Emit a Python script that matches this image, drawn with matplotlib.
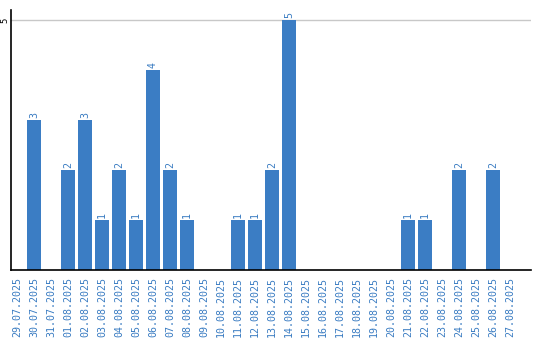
import matplotlib
matplotlib.use("Agg")
import matplotlib.pyplot as plt

dates = ["29.07.2025", "30.07.2025", "31.07.2025", "01.08.2025", "02.08.2025",
         "03.08.2025", "04.08.2025", "05.08.2025", "06.08.2025", "07.08.2025",
         "08.08.2025", "09.08.2025", "10.08.2025", "11.08.2025", "12.08.2025",
         "13.08.2025", "14.08.2025", "15.08.2025", "16.08.2025", "17.08.2025",
         "18.08.2025", "19.08.2025", "20.08.2025", "21.08.2025", "22.08.2025",
         "23.08.2025", "24.08.2025", "25.08.2025", "26.08.2025", "27.08.2025"]
values = [0, 3, 0, 2, 3, 1, 2, 1, 4, 2, 1, 0, 0, 1, 1, 2, 5, 0, 0, 0, 0, 0, 0,
          1, 1, 0, 2, 0, 2, 0]

bar_color = "#3b7dc4"
text_color = "#3a7cc2"
font = "DejaVu Sans Mono"

fig = plt.figure(figsize=(5.4, 3.4), dpi=100)
ax = fig.add_axes([10.5/540, 70/340, 520.5/540, 260/340])
x = list(range(len(dates)))
ax.bar(x, values, width=0.82, color=bar_color, zorder=3)
ax.set_xlim(-0.38, 30.24)
ax.set_ylim(0, 5.2)
ax.set_yticks([5])
ax.set_yticklabels(["5"], rotation=90, fontsize=6.5, family=font, va="center")
ax.set_xticks(x)
ax.set_xticklabels(dates, rotation=90, fontsize=7.2, family=font, color=text_color)
ax.tick_params(length=0, pad=5)
ax.tick_params(axis="y", pad=1)
ax.yaxis.grid(True, color="#c8c8c8", linewidth=1, zorder=0)
for s in ["top", "right"]:
    ax.spines[s].set_visible(False)
for s in ["left", "bottom"]:
    ax.spines[s].set_linewidth(1.2)
    ax.spines[s].set_zorder(4)
for xi, v in zip(x, values):
    if v > 0:
        ax.text(xi, v + 0.04, str(v), rotation=90, ha="center", va="bottom",
                fontsize=7.2, family=font, color=text_color)
fig.savefig("out.png", dpi=100)
